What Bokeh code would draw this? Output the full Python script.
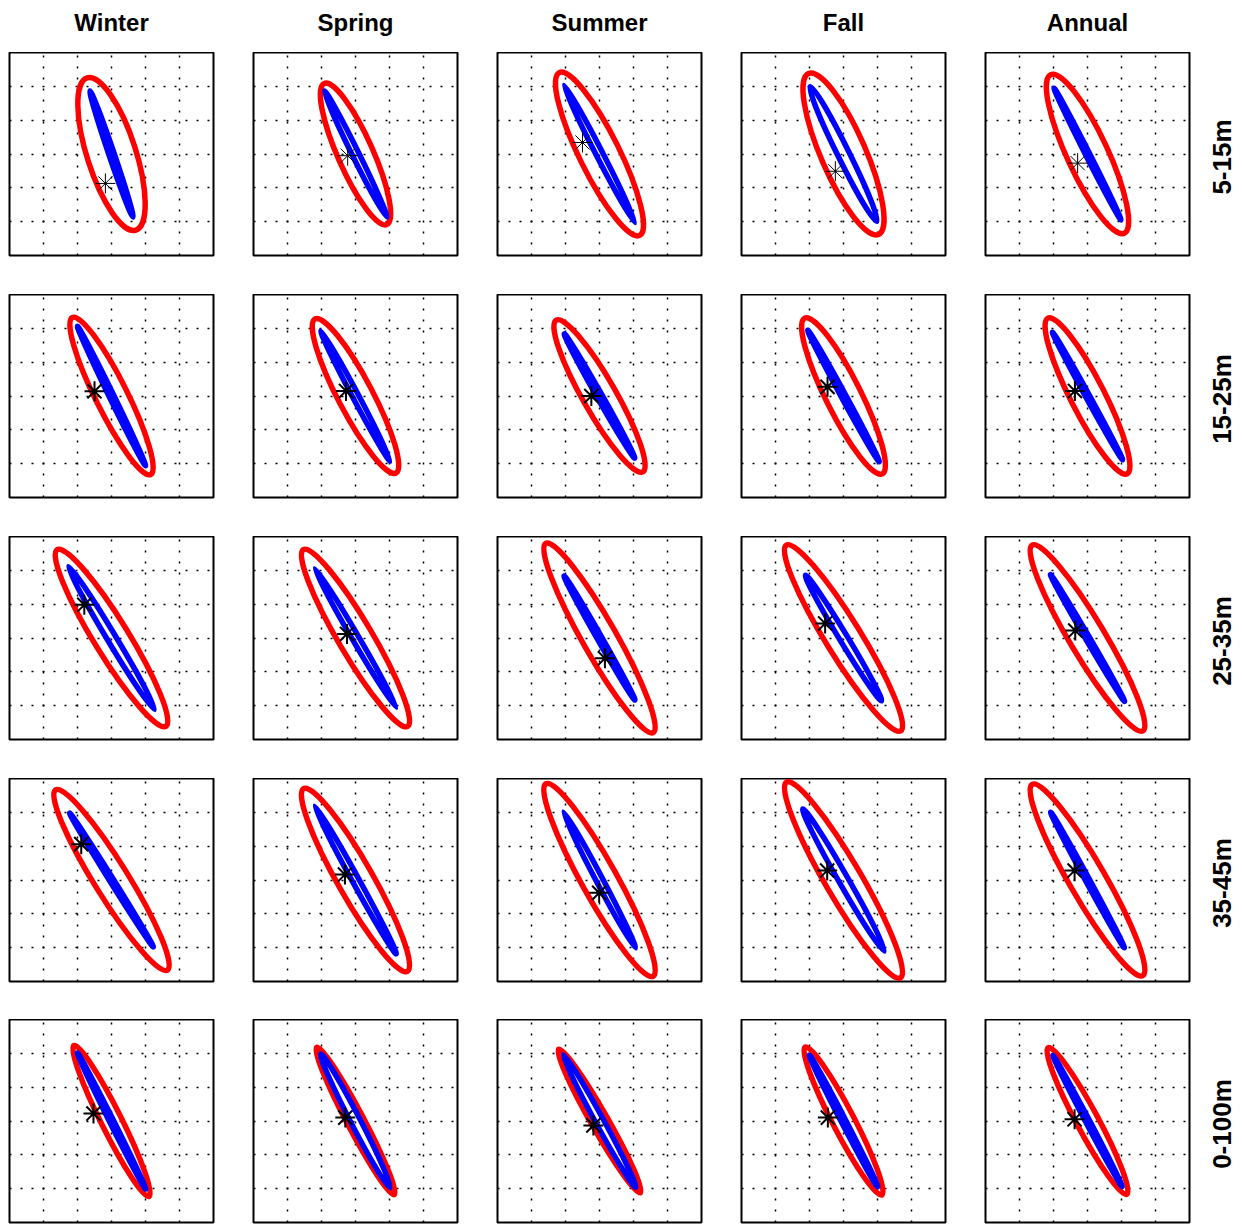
import numpy as np
from bokeh.plotting import figure
from bokeh.layouts import column, row
from bokeh.models import Grid, FixedTicker, Range1d
from bokeh.core.properties import value
from bokeh.embed import file_html
from bokeh.resources import INLINE

seasons = ["Winter", "Spring", "Summer", "Fall", "Annual"]
depths = ["5-15m", "15-25m", "25-35m", "35-45m", "0-100m"]

# rows = depth layers, columns = seasons (grid units)
red_major = [
    [2.35, 2.27, 2.67, 2.58, 2.57],
    [2.58, 2.56, 2.57, 2.56, 2.57],
    [3.05, 3.02, 3.20, 3.21, 3.18],
    [3.12, 3.09, 3.24, 3.33, 3.25],
    [2.48, 2.45, 2.43, 2.45, 2.45],
]
red_minor = [
    [0.72, 0.52, 0.59, 0.66, 0.60],
    [0.47, 0.51, 0.49, 0.52, 0.50],
    [0.51, 0.50, 0.50, 0.52, 0.52],
    [0.50, 0.52, 0.52, 0.53, 0.53],
    [0.30, 0.25, 0.25, 0.32, 0.32],
]
red_angle = [
    [107.8, 113.9, 116.3, 113.5, 114.9],
    [116.5, 117.7, 119.7, 116.5, 117.0],
    [121.6, 120.5, 119.6, 121.6, 120.8],
    [121.8, 119.6, 119.1, 120.2, 120.0],
    [116.5, 117.8, 119.6, 117.4, 118.2],
]
blue_major = [
    [1.96, 2.07, 2.27, 2.21, 2.17],
    [2.28, 2.17, 2.10, 2.20, 2.14],
    [2.45, 2.36, 2.10, 2.16, 2.16],
    [2.32, 2.48, 2.26, 2.41, 2.27],
    [2.24, 2.21, 2.22, 2.18, 2.18],
]
blue_minor = [
    [0.08, 0.10, 0.10, 0.17, 0.06],
    [0.07, 0.09, 0.08, 0.07, 0.06],
    [0.13, 0.10, 0.07, 0.12, 0.06],
    [0.06, 0.10, 0.10, 0.14, 0.06],
    [0.06, 0.14, 0.12, 0.07, 0.06],
]
blue_angle = [
    [108.8, 116.3, 117.2, 116.3, 116.9],
    [116.0, 118.0, 119.5, 118.5, 118.8],
    [121.0, 120.3, 119.7, 121.2, 120.3],
    [122.0, 118.8, 117.8, 119.8, 118.5],
    [116.6, 117.4, 118.6, 117.4, 117.8],
]
star_x = [
    [-0.18, -0.23, -0.50, -0.24, -0.29],
    [-0.50, -0.28, -0.24, -0.47, -0.37],
    [-0.80, -0.25, 0.16, -0.54, -0.36],
    [-0.89, -0.31, -0.01, -0.48, -0.38],
    [-0.53, -0.30, -0.18, -0.46, -0.38],
]
star_y = [
    [-0.87, -0.05, 0.34, -0.51, -0.27],
    [0.14, 0.15, 0.00, 0.27, 0.15],
    [0.98, 0.12, -0.60, 0.43, 0.22],
    [1.06, 0.16, -0.38, 0.28, 0.28],
    [0.22, 0.10, -0.13, 0.10, 0.05],
]
grid_ticks = [-2, -1, 0, 1, 2]

# layout (pixels)
FRAME_W, FRAME_H = 204, 203
LEFT_B = 9
col_w = [244, 244, 244, 244, 225]
row_h = [242, 242, 242, 241, 205]
HEADER_H = 52
LABEL_W = 44
TOTAL_W = sum(col_w) + LABEL_W

FONT = "Liberation Sans"


def base_fig(w, h, xr, yr, **kw):
    opts = dict(width=w, height=h, x_range=xr, y_range=yr, title=None,
                x_axis_type=None, y_axis_type=None, toolbar_location=None,
                output_backend="svg", background_fill_color="white",
                border_fill_color="white")
    opts.update(kw)
    return figure(**opts)


# header with column titles
header = base_fig(TOTAL_W, HEADER_H, Range1d(0, TOTAL_W), Range1d(0, HEADER_H),
                  min_border=0, outline_line_color=None)
title_x = [sum(col_w[:j]) + LEFT_B + FRAME_W / 2 for j in range(5)]
header.text(x=title_x, y=[HEADER_H - 22] * 5, text=seasons,
            text_align="center", text_baseline="alphabetic",
            text_font=value(FONT), text_font_style="bold",
            text_font_size="24px", text_color="black")

rows = [header]
for i in range(5):
    figs = []
    for j in range(5):
        p = base_fig(col_w[j], row_h[i], Range1d(-3, 3), Range1d(-3, 3),
                     min_border_left=LEFT_B, min_border_right=col_w[j] - LEFT_B - FRAME_W,
                     min_border_top=0, min_border_bottom=row_h[i] - FRAME_H,
                     outline_line_color="black", outline_line_width=2)
        for dim in (0, 1):
            p.add_layout(Grid(dimension=dim, ticker=FixedTicker(ticks=grid_ticks),
                              grid_line_color="black", grid_line_width=1.5,
                              grid_line_dash="2 9"))
        p.ellipse(x=[0], y=[0], width=[2 * red_major[i][j]], height=[2 * red_minor[i][j]],
                  angle=[red_angle[i][j]], angle_units="deg",
                  fill_color=None, line_color="#ff0000", line_width=5.5)
        p.ellipse(x=[0], y=[0], width=[2 * blue_major[i][j]], height=[2 * blue_minor[i][j]],
                  angle=[blue_angle[i][j]], angle_units="deg",
                  fill_color=None, line_color="#0000ff", line_width=5.5)
        p.scatter(x=[star_x[i][j]], y=[star_y[i][j]], marker="asterisk",
                  size=20, line_color="black", line_width=1 if i == 0 else 2)
        figs.append(p)
    lab = base_fig(LABEL_W, row_h[i], Range1d(0, LABEL_W), Range1d(-3, 3),
                   min_border_left=0, min_border_right=0, min_border_top=0,
                   min_border_bottom=row_h[i] - FRAME_H, outline_line_color=None)
    lab.text(x=[20], y=[-0.09], text=[depths[i]], angle=90,
             angle_units="deg", text_align="center", text_baseline="middle",
             text_font=value(FONT), text_font_style="bold",
             text_font_size="26px", text_color="black")
    figs.append(lab)
    rows.append(row(*figs, spacing=0))

layout = column(*rows, spacing=0)
open("out.html", "w").write(file_html(layout, INLINE))
